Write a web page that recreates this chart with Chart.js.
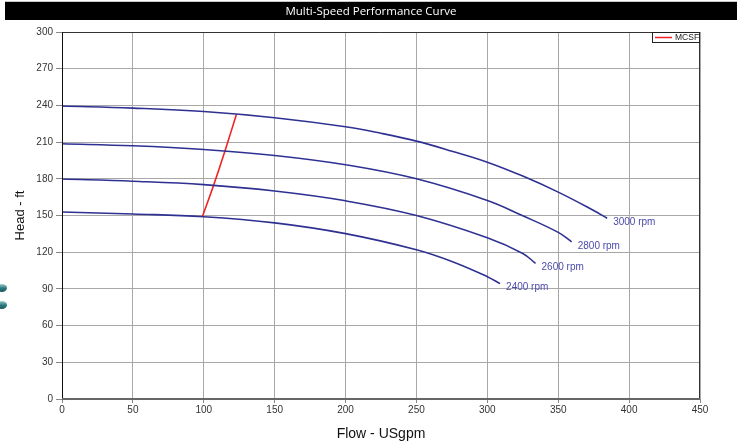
<!DOCTYPE html>
<html>
<head>
<meta charset="utf-8">
<script src="https://cdn.jsdelivr.net/npm/chart.js@4.4.1/dist/chart.umd.min.js"></script>
<style>
    html, body { margin: 0; padding: 0; background: #fff; }
    #wrap { position: relative; width: 737px; height: 443px; }
</style>
</head>
<body>
<div id="wrap"><canvas id="chart"></canvas></div>
<script>
// Curvas de rendimiento (caudal USgpm / altura ft)
const flow3000 = [0, 50, 100, 150, 200, 225, 250, 275, 300, 325, 350, 375, 384.5];
const head3000 = [239.5, 237.8, 235, 229.9, 222.5, 217.2, 210.8, 202.6, 193.6, 182.2, 169.1, 154.1, 147.8];
const flow2800 = [0, 50, 100, 150, 200, 250, 300, 325, 350, 359.5];
const head2800 = [208.6, 207, 204, 199.1, 191.5, 180, 162.3, 149.8, 136.2, 128.5];
const flow2600 = [0, 50, 100, 150, 200, 250, 300, 325, 334];
const head2600 = [179.8, 178, 175.2, 170, 162, 150, 131.8, 119, 110.8];
const flow2400 = [0, 50, 100, 150, 200, 250, 275, 300, 309];
const head2400 = [152.8, 151.2, 149, 144, 135.2, 122, 112.4, 100, 94.3];
const mcsfFlow = [99, 107, 115, 123];
const mcsfHead = [149, 175, 203, 232.5];

const speedLabels = ["3000 rpm", "2800 rpm", "2600 rpm", "2400 rpm"];
const xTicks = [0, 50, 100, 150, 200, 250, 300, 350, 400, 450];
const yTicks = [0, 30, 60, 90, 120, 150, 180, 210, 240, 270, 300];

const toPoints = (xs, ys) => xs.map((x, i) => ({ x: x, y: ys[i] }));

const curveColor = "#2e3192";
const labelColor = "#4b4bab";

const curves = [
    toPoints(flow3000, head3000),
    toPoints(flow2800, head2800),
    toPoints(flow2600, head2600),
    toPoints(flow2400, head2400),
];

const datasets = curves.map((pts, i) => ({
    label: speedLabels[i],
    data: pts,
    borderColor: curveColor,
    borderWidth: 1.6,
    pointRadius: 0,
    tension: 0.4,
    fill: false,
}));
datasets.push({
    label: "MCSF",
    data: toPoints(mcsfFlow, mcsfHead),
    borderColor: "#ee2424",
    borderWidth: 1.6,
    pointRadius: 0,
    tension: 0.3,
    fill: false,
});

// Titulo, etiquetas de curvas, leyenda y marco
const decor = {
    id: "decor",
    beforeDraw(chart) {
        const ctx = chart.ctx;
        ctx.save();
        ctx.fillStyle = "#fff";
        ctx.fillRect(0, 0, chart.width, chart.height);
        ctx.fillStyle = "#c8c8c8";
        ctx.fillRect(5, 1, chart.width - 5, 1);
        ctx.fillStyle = "#000";
        ctx.fillRect(5, 2, chart.width - 5, 18);
        ctx.fillStyle = "#fff";
        ctx.font = "11.5px 'Open Sans'";
        ctx.textAlign = "center";
        ctx.textBaseline = "middle";
        ctx.fillText("Multi-Speed Performance Curve", 371, 11.5);

        // iconos a la izquierda
        [288, 305].forEach((y) => {
            const g = ctx.createLinearGradient(0, y - 4, 0, y + 4);
            g.addColorStop(0, "#9fd0cc");
            g.addColorStop(0.5, "#2c7c80");
            g.addColorStop(1, "#1d5a5e");
            ctx.fillStyle = g;
            ctx.beginPath();
            ctx.ellipse(2, y, 5, 4, 0, 0, Math.PI * 2);
            ctx.fill();
        });
        ctx.restore();
    },
    afterDraw(chart) {
        const ctx = chart.ctx;
        const xs = chart.scales.x;
        const ys = chart.scales.y;
        const a = chart.chartArea;
        ctx.save();

        // marco
        ctx.strokeStyle = "#333";
        ctx.lineWidth = 1;
        ctx.beginPath();
        ctx.moveTo(a.left, a.top + 0.5);
        ctx.lineTo(a.right - 0.5, a.top + 0.5);
        ctx.lineTo(a.right - 0.5, a.bottom);
        ctx.stroke();
        ctx.strokeStyle = "#111";
        ctx.beginPath();
        ctx.moveTo(a.left + 0.5, a.top);
        ctx.lineTo(a.left + 0.5, a.bottom);
        ctx.stroke();
        ctx.strokeStyle = "#666";
        ctx.lineWidth = 2;
        ctx.beginPath();
        ctx.moveTo(a.left, a.bottom);
        ctx.lineTo(a.right, a.bottom);
        ctx.stroke();

        // etiquetas de velocidad al final de cada curva
        ctx.fillStyle = labelColor;
        ctx.font = "10px 'Liberation Sans'";
        ctx.textAlign = "left";
        ctx.textBaseline = "middle";
        curves.forEach((pts, i) => {
            const last = pts[pts.length - 1];
            ctx.fillText(speedLabels[i], xs.getPixelForValue(last.x) + 6, ys.getPixelForValue(last.y) + 4);
        });

        // leyenda
        const lx = 652, ly = a.top, lw = a.right - 652, lh = 11;
        ctx.fillStyle = "#fff";
        ctx.fillRect(lx, ly, lw, lh);
        ctx.strokeStyle = "#222";
        ctx.lineWidth = 1;
        ctx.strokeRect(lx + 0.5, ly + 0.5, lw - 1, lh - 1);
        ctx.strokeStyle = "#ee2424";
        ctx.lineWidth = 1.5;
        ctx.beginPath();
        ctx.moveTo(lx + 3, ly + 5.5);
        ctx.lineTo(lx + 20, ly + 5.5);
        ctx.stroke();
        ctx.fillStyle = "#222";
        ctx.font = "8.5px 'Liberation Sans'";
        ctx.fillText("MCSF", lx + 23, ly + 6);
        ctx.restore();
    },
};

new Chart(document.getElementById("chart"), {
    type: "line",
    data: { datasets: datasets },
    options: {
        responsive: true,
        maintainAspectRatio: false,
        animation: false,
        layout: { padding: { top: 32, right: 37, left: 0, bottom: 0 } },
        plugins: {
            legend: { display: false },
            tooltip: { enabled: false },
        },
        scales: {
            x: {
                type: "linear",
                min: 0,
                max: 450,
                afterBuildTicks: (scale) => {
                    scale.ticks = xTicks.map((v) => ({ value: v }));
                },
                afterFit: (scale) => {
                    scale.height = 44;
                },
                grid: { color: "#a8a8a8", lineWidth: 1, tickLength: 4, tickColor: "#888" },
                border: { display: false },
                ticks: {
                    color: "#333",
                    font: { family: "'Liberation Sans'", size: 10 },
                    padding: 1,
                    maxRotation: 0,
                },
                title: {
                    display: true,
                    text: "Flow - USgpm",
                    color: "#111",
                    font: { family: "'Liberation Sans'", size: 14 },
                    padding: { top: 6, bottom: 0 },
                },
            },
            y: {
                type: "linear",
                min: 0,
                max: 300,
                afterBuildTicks: (scale) => {
                    scale.ticks = yTicks.map((v) => ({ value: v }));
                },
                afterFit: (scale) => {
                    scale.width = 62;
                },
                grid: { color: "#a8a8a8", lineWidth: 1, tickLength: 6, tickColor: "#888" },
                border: { display: false },
                ticks: {
                    color: "#333",
                    font: { family: "'Liberation Sans'", size: 10 },
                    padding: 3,
                },
                title: {
                    display: true,
                    text: "Head - ft",
                    color: "#111",
                    font: { family: "'Liberation Sans'", size: 13 },
                    padding: { top: 13, bottom: 6 },
                },
            },
        },
    },
    plugins: [decor],
});
</script>
</body>
</html>
